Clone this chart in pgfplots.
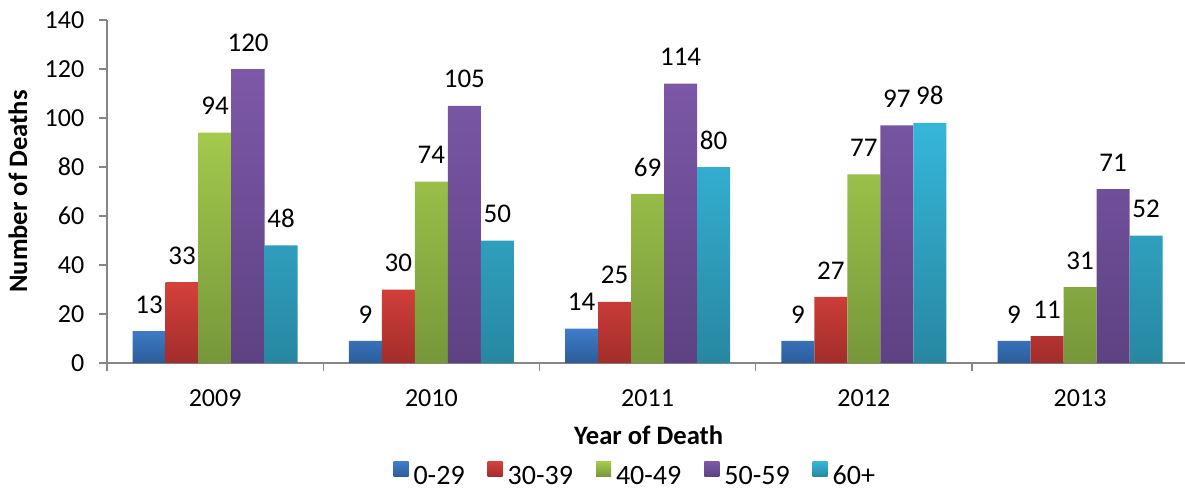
\documentclass[border=0pt]{standalone}
\usepackage{fontspec}
\setmainfont{Carlito}
\usepackage{pgfplots}
\pgfplotsset{compat=1.18}
\definecolor{blueT}{HTML}{3F7DCB}\definecolor{blueB}{HTML}{2B5C99}
\definecolor{redT}{HTML}{D5403C}\definecolor{redB}{HTML}{A22D2A}
\definecolor{greenT}{HTML}{A3C94C}\definecolor{greenB}{HTML}{76973A}
\definecolor{purpleT}{HTML}{7D58A8}\definecolor{purpleB}{HTML}{5D4283}
\definecolor{cyanT}{HTML}{35B6D9}\definecolor{cyanB}{HTML}{2887A1}
\definecolor{axisgray}{HTML}{868686}
\begin{document}
\fontsize{12.5bp}{15bp}\selectfont
\begin{tikzpicture}
\begin{axis}[
  at={(0,0)}, anchor=south west,
  scale only axis, width=540.6bp, height=171.5bp,
  xmin=-0.5, xmax=4.5, ymin=0, ymax=140,
  enlargelimits=false, clip=false,
  /pgf/number format/assume math mode=true,
  axis x line*=bottom, axis y line*=left,
  axis line style={draw=axisgray, line width=0.65bp},
  every tick/.style={draw=axisgray, line width=0.65bp},
  tick align=outside, major tick length=4bp,
  xtick={-0.5,0.5,1.5,2.5,3.5,4.5},
  xticklabels={2009,2010,2011,2012,2013},
  x tick label as interval,
  xticklabel style={yshift=-5bp},
  ytick={0,20,...,140},
  yticklabel style={xshift=-3bp},
  tick label style={font=\fontsize{13bp}{15bp}\selectfont},
  xlabel={\textbf{Year of Death}},
  ylabel={\textbf{Number of Deaths}},
  every axis x label/.style={at={(axis description cs:0.501,0)}, anchor=base, yshift=-40.5bp, font=\fontsize{13.3bp}{15bp}\selectfont},
  every axis y label/.style={at={(axis description cs:0,0.5)}, rotate=90, anchor=center, yshift=44.5bp, font=\fontsize{13.3bp}{15bp}\selectfont},
  ybar=0pt, bar width=16.5bp,
  every axis plot/.append style={draw=none,
    legend image code/.code={\path[##1,draw=none] (0bp,0bp) rectangle (7.5bp,7.5bp);}},
  nodes near coords,
  every node near coord/.append style={black, anchor=south, yshift=4.5bp, font=\fontsize{13.5bp}{15bp}\selectfont},
  legend style={at={(0.49,-0.332)}, anchor=center, draw=none, legend columns=5,
    font=\fontsize{14bp}{16bp}\selectfont,
    /tikz/every even column/.append style={column sep=9bp},
    nodes={inner sep=2.5bp}},
]
\addplot[top color=blueT, bottom color=blueB] coordinates {(0,13) (1,9) (2,14) (3,9) (4,9)};
\addplot[top color=redT, bottom color=redB] coordinates {(0,33) (1,30) (2,25) (3,27) (4,11)};
\addplot[top color=greenT, bottom color=greenB] coordinates {(0,94) (1,74) (2,69) (3,77) (4,31)};
\addplot[top color=purpleT, bottom color=purpleB] coordinates {(0,120) (1,105) (2,114) (3,97) (4,71)};
\addplot[top color=cyanT, bottom color=cyanB] coordinates {(0,48) (1,50) (2,80) (3,98) (4,52)};
\legend{0-29,30-39,40-49,50-59,60+}
\end{axis}
\pgfresetboundingbox
\path (-53.5bp,-64bp) rectangle (539bp,181.5bp);
\end{tikzpicture}
\end{document}
